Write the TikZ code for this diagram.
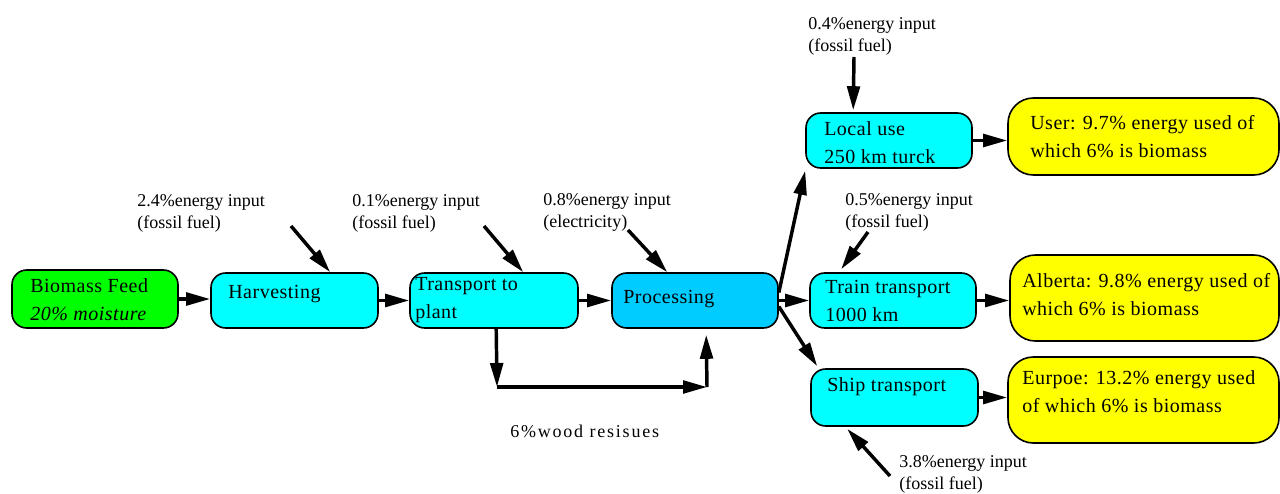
\documentclass[tikz,border=0pt]{standalone}
\usepackage{fontspec}
\setmainfont{Liberation Serif}
\newfontfamily\boxfont[LetterSpace=2.5]{Liberation Serif}
\usetikzlibrary{arrows.meta,calc,fit}
\definecolor{bgreen}{HTML}{00FF00}
\definecolor{bcyan}{HTML}{00FFFF}
\definecolor{bproc}{HTML}{00CCFF}
\definecolor{byellow}{HTML}{FFFF00}
\tikzset{
  stage/.style={draw=black, line width=1.2pt, rounded corners=11pt, inner sep=0pt},
  result/.style={draw=black, line width=1.2pt, rounded corners=19pt, inner sep=0pt, fill=byellow},
  boxtext/.style={anchor=base west, inner sep=0pt, align=left, font=\boxfont\fontsize{15}{21}\selectfont},
  lbl/.style={anchor=base west, inner sep=0pt, align=left, font=\fontsize{13.5}{16.5}\selectfont},
  arr/.style={line width=2.6pt, -{Triangle[length=18pt,width=9.5pt]}},
}
\begin{document}
\begin{tikzpicture}[x=0.75pt,y=-0.75pt]
\useasboundingbox (0,0) rectangle (1280,493);
% boxes
\node[stage, fill=bgreen, fit={(12,270) (178,328)}] (bio) {};
\node[stage, fill=bcyan, fit={(211,273) (378,328)}] (harv) {};
\node[stage, fill=bcyan, fit={(410,273) (578,328)}] (trans) {};
\node[stage, fill=bproc, fit={(612,273) (778,328)}] (proc) {};
\node[stage, fill=bcyan, fit={(806,113) (972,168)}] (local) {};
\node[stage, fill=bcyan, fit={(810,273) (976,328)}] (train) {};
\node[stage, fill=bcyan, fit={(811,369) (978,426)}] (ship) {};
\node[result, fit={(1008,98) (1279,175)}] (user) {};
\node[result, fit={(1010,255) (1279,341)}] (alb) {};
\node[result, fit={(1008,357) (1279,443)}] (eur) {};
% box texts (base = baseline of last line)
\node[boxtext] (tbio) at (30,320) {Biomass Feed\\\textit{20\% moisture}};
\node[boxtext] (tharv) at (228,298) {Harvesting};
\node[boxtext] (ttrans) at (415,318) {Transport to\\plant};
\node[boxtext] (tproc) at (623,303) {Processing};
\node[boxtext] (tlocal) at (824,163) {Local use\\250 km turck};
\node[boxtext] (ttrain) at (825,321) {Train transport\\1000 km};
\node[boxtext] (tship) at (827,391) {Ship transport};
\node[boxtext] (tuser) at (1030,157) {User: 9.7\% energy used of\\which 6\% is biomass};
\node[boxtext] (talb) at (1022,315) {Alberta: 9.8\% energy used of\\which 6\% is biomass};
\node[boxtext] (teur) at (1022,412) {Eurpoe: 13.2\% energy used\\of which 6\% is biomass};
% labels
\node[lbl] (l24) at (137,228) {2.4\%energy input\\(fossil fuel)};
\node[lbl] (l01) at (352,228) {0.1\%energy input\\(fossil fuel)};
\node[lbl] (l08) at (543,227) {0.8\%energy input\\(electricity)};
\node[lbl] (l04) at (808,51) {0.4\%energy input\\(fossil fuel)};
\node[lbl] (l05) at (845,227) {0.5\%energy input\\(fossil fuel)};
\node[lbl] (l38) at (899,489) {3.8\%energy input\\(fossil fuel)};
\node[lbl] (lwood) at (510,437) {\addfontfeature{LetterSpace=10}6\%wood resisues};
% coordinates
\coordinate (s24) at (291,226);
\coordinate (s01) at (484,226);
\coordinate (s08) at (628,230);
\coordinate (s04) at (854,57);
\coordinate (s05) at (868,232);
\coordinate (s38) at (890,476);
\coordinate (w1) at (497,387);
\coordinate (w2) at (707,387);
% main flow
\draw[arr] (bio.east) -- (bio.east -| harv.west);
\draw[arr] (harv.east) -- (harv.east -| trans.west);
\draw[arr] (trans.east) -- (trans.east -| proc.west);
\draw[arr] ($(proc.east)+(0,-8)$) -- ($(local.south west)+(0,2)$);
\draw[arr] (proc.east) -- (train.west);
\draw[arr] ($(proc.east)+(0,6)$) -- ($(ship.north west)+(7,-2)$);
\draw[arr] (local.east) -- (local.east -| user.west);
\draw[arr] (train.east) -- (train.east -| alb.west);
\draw[arr] (ship.east) -- (ship.east -| eur.west);
% wood residues
\draw[arr] ($(trans.south west)+(87,0)$) -- (w1);
\draw[arr] (w1) -- (w2);
\draw[arr] (w2) -- ($(proc.south west)+(95,6)$);
% energy inputs
\draw[arr] (s24) -- ($(harv.north west)+(120,0)$);
\draw[arr] (s01) -- ($(trans.north west)+(114,0)$);
\draw[arr] (s08) -- ($(proc.north west)+(56,0)$);
\draw[arr] (s04) -- ($(local.north west)+(48,-2)$);
\draw[arr] (s05) -- ($(train.north west)+(32,-3)$);
\draw[arr] (s38) -- ($(ship.south west)+(37,2)$);
\end{tikzpicture}
\end{document}
